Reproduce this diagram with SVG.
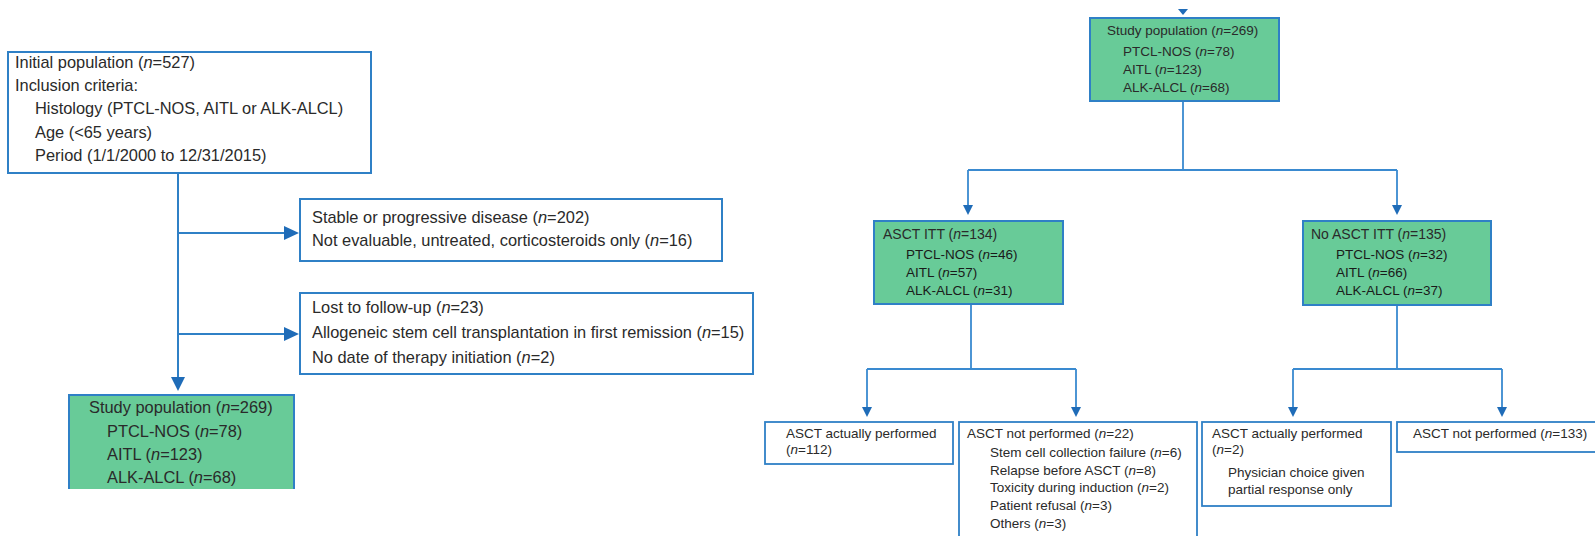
<svg xmlns="http://www.w3.org/2000/svg" width="1595" height="536" viewBox="0 0 1595 536">
<style>
.box{fill:#fff;stroke:#2f80c6;stroke-width:2}
.gbox{fill:#68cb98;stroke:#2f80c6;stroke-width:2}
.ln{fill:none;stroke:#2f80c6;stroke-width:2}
.lnr{fill:none;stroke:#3a8ad0;stroke-width:1.8}
.t{font-family:"Liberation Sans",Arial,sans-serif;font-size:16.4px;fill:#2a2a2a}
.r{font-family:"Liberation Sans",Arial,sans-serif;font-size:13.5px;fill:#2a2a2a}
.d{fill:#1a1a1a}
.i{font-style:italic}
.ah{fill:#1f6cb8}
</style>
<g id="connectors">
  <path class="ln" d="M178 173 V380 M178 233 H286 M178 334 H286"/>
  <polygon class="ah" points="171,377 185,377 178,391"/>
  <polygon class="ah" points="284,226 284,240 299,233"/>
  <polygon class="ah" points="284,327 284,341 299,334"/>
  <polygon class="ah" points="1178,9 1188,9 1183,15"/>
  <path class="lnr" d="M1183 101 V170 M968 170 H1397 M968 170 V207 M1397 170 V207"/>
  <polygon class="ah" points="963,205 973,205 968,215"/>
  <polygon class="ah" points="1392,205 1402,205 1397,215"/>
  <path class="lnr" d="M971 304 V369 M867 369 H1076 M867 369 V409 M1076 369 V409"/>
  <polygon class="ah" points="862,407 872,407 867,417"/>
  <polygon class="ah" points="1071,407 1081,407 1076,417"/>
  <path class="lnr" d="M1397 305 V369 M1293 369 H1502 M1293 369 V409 M1502 369 V409"/>
  <polygon class="ah" points="1288,407 1298,407 1293,417"/>
  <polygon class="ah" points="1497,407 1507,407 1502,417"/>
</g>
<g id="initial">
  <rect class="box" x="8" y="52" width="363" height="121"/>
  <text class="t" x="15" y="68">Initial population (<tspan class="i">n</tspan>=527)</text>
  <text class="t" x="15" y="91">Inclusion criteria:</text>
  <text class="t" x="35" y="114">Histology (PTCL-NOS, AITL or ALK-ALCL)</text>
  <text class="t" x="35" y="138">Age (&lt;65 years)</text>
  <text class="t" x="35" y="161">Period (1/1/2000 to 12/31/2015)</text>
</g>
<g id="excluded1">
  <rect class="box" x="300" y="199" width="422" height="62"/>
  <text class="t" x="312" y="223">Stable or progressive disease (<tspan class="i">n</tspan>=202)</text>
  <text class="t" x="312" y="246">Not evaluable, untreated, corticosteroids only (<tspan class="i">n</tspan>=16)</text>
</g>
<g id="excluded2">
  <rect class="box" x="300" y="293" width="453" height="81"/>
  <text class="t" x="312" y="313">Lost to follow-up (<tspan class="i">n</tspan>=23)</text>
  <text class="t" x="312" y="338">Allogeneic stem cell transplantation in first remission (<tspan class="i">n</tspan>=15)</text>
  <text class="t" x="312" y="363">No date of therapy initiation (<tspan class="i">n</tspan>=2)</text>
</g>
<g id="study-left">
  <rect x="69" y="395" width="225" height="94" fill="#68cb98"/>
  <path class="ln" d="M69 489 V395 H294 V489"/>
  <text class="t" x="89" y="413">Study population (<tspan class="i">n</tspan>=269)</text>
  <text class="t" x="107" y="437">PTCL-NOS (<tspan class="i">n</tspan>=78)</text>
  <text class="t" x="107" y="460">AITL (<tspan class="i">n</tspan>=123)</text>
  <text class="t" x="107" y="483">ALK-ALCL (<tspan class="i">n</tspan>=68)</text>
</g>
<g id="study-right">
  <rect class="gbox" x="1090" y="18" width="189" height="83"/>
  <text class="r" x="1107" y="35">Study population (<tspan class="i">n</tspan>=269)</text>
  <text class="r" x="1123" y="56">PTCL-NOS (<tspan class="i">n</tspan>=78)</text>
  <text class="r" x="1123" y="74">AITL (<tspan class="i">n</tspan>=123)</text>
  <text class="r" x="1123" y="92">ALK-ALCL (<tspan class="i">n</tspan>=68)</text>
</g>
<g id="asct-itt">
  <rect class="gbox" x="874" y="221" width="189" height="83"/>
  <text class="r" x="883" y="239" style="font-size:14px">ASCT ITT (<tspan class="i">n</tspan>=134)</text>
  <text class="r d" x="906" y="259">PTCL-NOS (<tspan class="i">n</tspan>=46)</text>
  <text class="r d" x="906" y="277">AITL (<tspan class="i">n</tspan>=57)</text>
  <text class="r d" x="906" y="295">ALK-ALCL (<tspan class="i">n</tspan>=31)</text>
</g>
<g id="no-asct-itt">
  <rect class="gbox" x="1303" y="221" width="188" height="84"/>
  <text class="r" x="1311" y="239" style="font-size:14px">No ASCT ITT (<tspan class="i">n</tspan>=135)</text>
  <text class="r d" x="1336" y="259">PTCL-NOS (<tspan class="i">n</tspan>=32)</text>
  <text class="r d" x="1336" y="277">AITL (<tspan class="i">n</tspan>=66)</text>
  <text class="r d" x="1336" y="295">ALK-ALCL (<tspan class="i">n</tspan>=37)</text>
</g>
<g id="asct-performed">
  <rect class="box" x="765" y="422" width="188" height="42" style="stroke-width:1.8"/>
  <text class="r" x="786" y="438">ASCT actually performed</text>
  <text class="r" x="786" y="454">(<tspan class="i">n</tspan>=112)</text>
</g>
<g id="asct-not-performed">
  <rect class="box" x="959" y="422" width="238" height="130" style="stroke-width:1.8"/>
  <text class="r" x="967" y="438">ASCT not performed (<tspan class="i">n</tspan>=22)</text>
  <text class="r" x="990" y="457">Stem cell collection failure (<tspan class="i">n</tspan>=6)</text>
  <text class="r" x="990" y="475">Relapse before ASCT (<tspan class="i">n</tspan>=8)</text>
  <text class="r" x="990" y="492">Toxicity during induction (<tspan class="i">n</tspan>=2)</text>
  <text class="r" x="990" y="510">Patient refusal (<tspan class="i">n</tspan>=3)</text>
  <text class="r" x="990" y="528">Others (<tspan class="i">n</tspan>=3)</text>
</g>
<g id="no-itt-performed">
  <rect class="box" x="1202" y="422" width="189" height="84" style="stroke-width:1.8"/>
  <text class="r" x="1212" y="438">ASCT actually performed</text>
  <text class="r" x="1212" y="454">(<tspan class="i">n</tspan>=2)</text>
  <text class="r" x="1228" y="477">Physician choice given</text>
  <text class="r" x="1228" y="494">partial response only</text>
</g>
<g id="no-itt-not-performed">
  <rect class="box" x="1397" y="422" width="210" height="30" style="stroke-width:1.8"/>
  <text class="r" x="1413" y="438">ASCT not performed (<tspan class="i">n</tspan>=133)</text>
</g>
</svg>
